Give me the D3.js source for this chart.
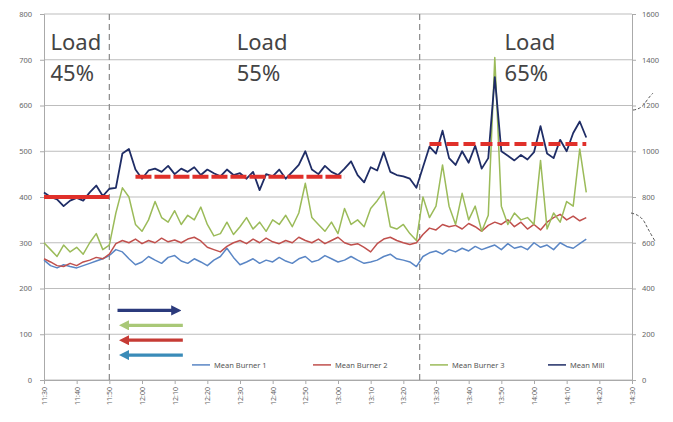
<!DOCTYPE html>
<html lang="en">
<head>
  <meta charset="UTF-8">
  <title>Mean burner / mill</title>
  <script src="https://cdn.jsdelivr.net/npm/d3@7"></script>
  <style>
    body { margin: 0; background: #fff; }
    text { font-family: "Noto Sans", "DejaVu Sans", sans-serif; }
  </style>
</head>
<body>
  <svg width="673" height="422"></svg>
<script>
  // minutes after 11:30, one reading every 2 min
  const minutes = d3.range(0, 167, 2);

  const burner1 = [262, 250, 245, 252, 248, 245, 250, 255, 260, 265, 272, 285, 280, 265, 252, 258, 270, 262, 255, 268,
    272, 260, 255, 265, 258, 250, 262, 270, 288, 268, 252, 258, 265, 255, 262, 258, 268, 260, 255, 265,
    270, 258, 262, 272, 265, 258, 262, 270, 262, 255, 258, 262, 270, 275, 265, 262, 258, 248, 270, 278,
    282, 275, 285, 280, 288, 282, 292, 285, 290, 295, 285, 298, 288, 292, 285, 300, 290, 295, 285, 300,
    292, 288, 298, 308];
  const burner2 = [265, 258, 250, 248, 255, 250, 258, 262, 268, 265, 275, 298, 305, 300, 308, 298, 305, 300, 310, 302,
    306, 300, 308, 312, 304, 290, 285, 280, 292, 300, 305, 298, 308, 300, 310, 302, 298, 305, 300, 312,
    305, 300, 308, 298, 305, 312, 300, 295, 298, 290, 280, 298, 308, 312, 305, 300, 296, 300, 318, 332,
    328, 340, 335, 338, 330, 342, 335, 325, 338, 345, 340, 350, 335, 345, 330, 340, 328, 345, 355, 362,
    350, 358, 348, 355];
  const burner3 = [300, 285, 270, 295, 280, 290, 275, 300, 320, 285, 295, 365, 420, 400, 340, 325, 350, 390, 355, 345,
    370, 340, 360, 350, 378, 340, 315, 320, 345, 318, 335, 355, 330, 345, 325, 350, 340, 360, 335, 365,
    430, 355, 340, 325, 345, 320, 375, 340, 350, 335, 375, 392, 412, 335, 330, 340, 320, 305, 400, 355,
    380, 470, 380, 340, 408, 350, 380, 325, 360, 705, 380, 340, 365, 350, 355, 340, 480, 330, 365, 345,
    390, 380, 505, 410];
  const mill = [410, 400, 395, 380, 392, 398, 392, 410, 425, 402, 418, 420, 495, 505, 460, 440, 458, 462, 455, 468,
    450, 462, 455, 465, 448, 460, 452, 445, 460, 448, 452, 440, 455, 415, 450, 445, 460, 440, 455, 470,
    500, 460, 450, 468, 455, 448, 462, 478, 448, 432, 465, 458, 498, 455, 448, 445, 440, 420, 465, 510,
    495, 545, 485, 470, 500, 475, 512, 462, 485, 662, 500, 490, 480, 492, 482, 498, 555, 495, 485, 525,
    500, 540, 565, 530];

  const seriesNames = ["Mean Burner 1", "Mean Burner 2", "Mean Burner 3", "Mean Mill"];
  const seriesColors = ["#5a86c5", "#c0504d", "#9bbb59", "#1f2d66"];

  // load levels (target lines): start min, end min, value
  const loadNames = ["Load\n45%", "Load\n55%", "Load\n65%"];
  const targetStart = [0, 28, 118];
  const targetEnd = [20, 92, 166];
  const targetValue = [400, 444, 516];
  const loadChanges = [20, 115];   // dashed separators, minutes after 11:30

  const tickLabels = ["11:30", "11:40", "11:50", "12:00", "12:10", "12:20", "12:30", "12:40", "12:50", "13:00",
    "13:10", "13:20", "13:30", "13:40", "13:50", "14:00", "14:10", "14:20", "14:30"];

  const svg = d3.select("svg");
  const margin = { top: 14, right: 41, bottom: 42, left: 44 };
  const width = +svg.attr("width"), height = +svg.attr("height");
  const innerWidth = width - margin.left - margin.right;
  const innerHeight = height - margin.top - margin.bottom;

  const g = svg.append("g").attr("transform", `translate(${margin.left},${margin.top})`);

  const x = d3.scaleLinear().domain([0, 180]).range([0, innerWidth]);
  const y = d3.scaleLinear().domain([0, 800]).range([innerHeight, 0]);
  const yRight = d3.scaleLinear().domain([0, 1600]).range([innerHeight, 0]);

  // gridlines
  g.append("g")
    .selectAll("line")
    .data(y.ticks(8))
    .join("line")
    .attr("x1", 0).attr("x2", innerWidth)
    .attr("y1", d => y(d)).attr("y2", d => y(d))
    .attr("stroke", "#bdbdbd").attr("stroke-width", 1);

  // axes
  const axisStyle = sel => {
    sel.selectAll("text").attr("fill", "#666").attr("font-size", 7.5);
    sel.selectAll("line").attr("stroke", "#aaa");
    sel.select(".domain").attr("stroke", "#aaa");
  };

  g.append("g")
    .call(d3.axisLeft(y).ticks(8).tickSize(4).tickPadding(8))
    .call(axisStyle);

  g.append("g")
    .attr("transform", `translate(${innerWidth},0)`)
    .call(d3.axisRight(yRight).ticks(8, "d").tickSize(4).tickPadding(6))
    .call(axisStyle);

  const xAxis = g.append("g")
    .attr("transform", `translate(0,${innerHeight})`)
    .call(d3.axisBottom(x).tickValues(d3.range(0, 181, 10)).tickSize(4)
      .tickFormat((d, i) => tickLabels[i]))
    .call(axisStyle);
  xAxis.selectAll("text")
    .attr("font-size", 7)
    .attr("transform", "rotate(-90)")
    .attr("text-anchor", "end")
    .attr("dy", "0.35em")
    .attr("x", -7)
    .attr("y", 0);

  // load change separators
  g.append("g")
    .selectAll("line")
    .data(loadChanges)
    .join("line")
    .attr("x1", d => x(d)).attr("x2", d => x(d))
    .attr("y1", 0).attr("y2", innerHeight)
    .attr("stroke", "#8a8a8a").attr("stroke-width", 1.2)
    .attr("stroke-dasharray", "6,4");

  // series
  const allSeries = [burner1, burner2, burner3, mill];
  const line = d3.line().x((d, i) => x(minutes[i])).y(d => y(d));

  g.append("g")
    .selectAll("path")
    .data(allSeries)
    .join("path")
    .attr("d", d => line(d))
    .attr("fill", "none")
    .attr("stroke", (d, i) => seriesColors[i])
    .attr("stroke-width", (d, i) => i === 3 ? 1.8 : 1.5)
    .attr("stroke-linejoin", "round");

  // target lines
  g.append("g")
    .selectAll("line")
    .data(targetValue)
    .join("line")
    .attr("x1", (d, i) => x(targetStart[i]))
    .attr("x2", (d, i) => x(targetEnd[i]))
    .attr("y1", d => y(d)).attr("y2", d => y(d))
    .attr("stroke", "#e0302a")
    .attr("stroke-width", 4)
    .attr("stroke-dasharray", (d, i) => ["none", "16,3", "12,5"][i]);

  // load labels
  const labelX = [2, 59, 141];
  g.append("g")
    .selectAll("text")
    .data(loadNames)
    .join("text")
    .attr("x", (d, i) => x(labelX[i]))
    .attr("fill", "#444")
    .attr("font-size", 22)
    .selectAll("tspan")
    .data(d => d.split("\n"))
    .join("tspan")
    .attr("x", function () { return d3.select(this.parentNode).attr("x"); })
    .attr("y", (d, i) => 36 + i * 31)
    .text(d => d);

  // arrows (mill increases, burners ordered left)
  const defs = svg.append("defs");
  const arrowOrder = [3, 2, 1, 0];
  const arrowColors = ["#2b3a7c", "#a9c877", "#c63b35", "#3a8bb8"];
  arrowColors.forEach((c, i) => {
    defs.append("marker")
      .attr("id", "arr" + i)
      .attr("viewBox", "0 0 10 10")
      .attr("refX", 5).attr("refY", 5)
      .attr("markerWidth", 3.2).attr("markerHeight", 3.2)
      .attr("orient", "auto")
      .append("path")
      .attr("d", "M0,0L10,5L0,10z")
      .attr("fill", c);
  });
  g.append("g")
    .selectAll("line")
    .data(arrowOrder)
    .join("line")
    .attr("x1", (d, i) => i === 0 ? x(22.5) : x(42.5))
    .attr("x2", (d, i) => i === 0 ? x(40.5) : x(24.5))
    .attr("y1", (d, i) => y(152 - i * 32.5))
    .attr("y2", (d, i) => y(152 - i * 32.5))
    .attr("stroke", (d, i) => arrowColors[i])
    .attr("stroke-width", 3.2)
    .attr("marker-end", (d, i) => `url(#arr${i})`);

  // legend
  const legendX = [148, 269, 386, 504];
  const legend = g.append("g")
    .selectAll("g")
    .data(seriesNames)
    .join("g")
    .attr("transform", (d, i) => `translate(${legendX[i]},${y(33)})`);
  legend.append("line")
    .attr("x1", 0).attr("x2", 18)
    .attr("stroke", (d, i) => seriesColors[i]).attr("stroke-width", 1.5);
  legend.append("text")
    .attr("x", 22).attr("dy", "0.35em")
    .attr("font-size", 7.5).attr("fill", "#555")
    .text(d => d);

  // leader lines drawn beside the right axis
  g.append("path")
    .attr("d", `M${innerWidth + 1},${yRight(1180)} q8,-1 12,-7 t8,-10`)
    .attr("fill", "none").attr("stroke", "#555").attr("stroke-dasharray", "3,2");
  g.append("path")
    .attr("d", `M${innerWidth - 1},${yRight(730)} q10,2 14,10 t10,18`)
    .attr("fill", "none").attr("stroke", "#555").attr("stroke-dasharray", "3,2");
</script>
</body>
</html>
